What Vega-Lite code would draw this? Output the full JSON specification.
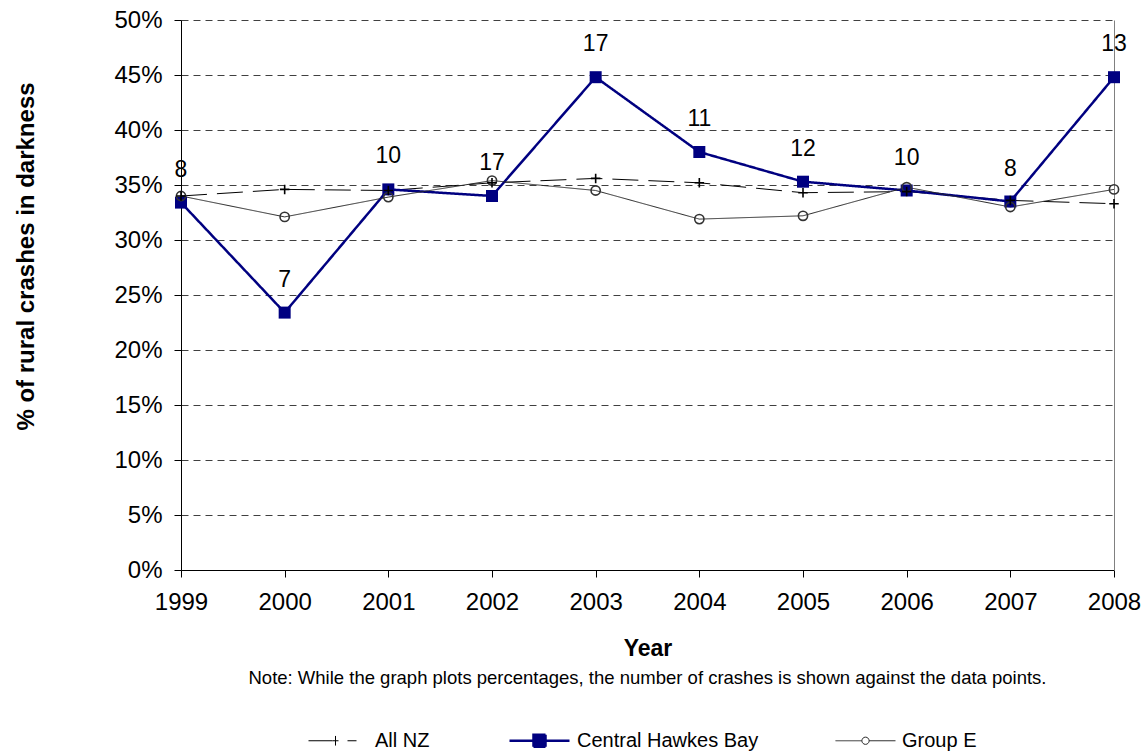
{
  "$schema": "https://vega.github.io/schema/vega-lite/v6.json",
  "width": 933,
  "height": 550,
  "autosize": "none",
  "padding": {"left": 181, "top": 20, "right": 31, "bottom": 184},
  "background": "white",
  "config": {
    "view": {"stroke": null},
    "font": "Liberation Sans",
    "axis": {"labelFont": "Liberation Sans", "titleFont": "Liberation Sans", "labelColor": "black", "titleColor": "black"}
  },
  "title": {
    "text": "Note: While the graph plots percentages, the number of crashes is shown against the  data points.",
    "orient": "bottom",
    "anchor": "middle",
    "fontSize": 18.5,
    "fontWeight": "normal",
    "font": "Liberation Sans",
    "color": "black",
    "offset": -83
  },
  "data": {
    "values": [
      {"year": 1999, "series": "All NZ", "value": 0.340},
      {"year": 2000, "series": "All NZ", "value": 0.346},
      {"year": 2001, "series": "All NZ", "value": 0.345},
      {"year": 2002, "series": "All NZ", "value": 0.352},
      {"year": 2003, "series": "All NZ", "value": 0.356},
      {"year": 2004, "series": "All NZ", "value": 0.352},
      {"year": 2005, "series": "All NZ", "value": 0.343},
      {"year": 2006, "series": "All NZ", "value": 0.344},
      {"year": 2007, "series": "All NZ", "value": 0.336},
      {"year": 2008, "series": "All NZ", "value": 0.333},
      {"year": 1999, "series": "Central Hawkes Bay", "value": 0.334, "count": 8},
      {"year": 2000, "series": "Central Hawkes Bay", "value": 0.234, "count": 7},
      {"year": 2001, "series": "Central Hawkes Bay", "value": 0.346, "count": 10},
      {"year": 2002, "series": "Central Hawkes Bay", "value": 0.340, "count": 17},
      {"year": 2003, "series": "Central Hawkes Bay", "value": 0.448, "count": 17},
      {"year": 2004, "series": "Central Hawkes Bay", "value": 0.380, "count": 11},
      {"year": 2005, "series": "Central Hawkes Bay", "value": 0.353, "count": 12},
      {"year": 2006, "series": "Central Hawkes Bay", "value": 0.345, "count": 10},
      {"year": 2007, "series": "Central Hawkes Bay", "value": 0.335, "count": 8},
      {"year": 2008, "series": "Central Hawkes Bay", "value": 0.448, "count": 13},
      {"year": 1999, "series": "Group E", "value": 0.340},
      {"year": 2000, "series": "Group E", "value": 0.321},
      {"year": 2001, "series": "Group E", "value": 0.339},
      {"year": 2002, "series": "Group E", "value": 0.354},
      {"year": 2003, "series": "Group E", "value": 0.345},
      {"year": 2004, "series": "Group E", "value": 0.319},
      {"year": 2005, "series": "Group E", "value": 0.322},
      {"year": 2006, "series": "Group E", "value": 0.348},
      {"year": 2007, "series": "Group E", "value": 0.330},
      {"year": 2008, "series": "Group E", "value": 0.346}
    ]
  },
  "encoding": {
    "x": {
      "field": "year",
      "type": "quantitative",
      "scale": {"domain": [1999, 2008], "nice": false, "zero": false},
      "axis": {
        "title": "Year",
        "values": [1999, 2000, 2001, 2002, 2003, 2004, 2005, 2006, 2007, 2008],
        "format": "d",
        "grid": false,
        "domainColor": "black",
        "tickColor": "black",
        "tickSize": 7,
        "labelFontSize": 24,
        "labelPadding": 13,
        "labelFlush": false,
        "titleFontSize": 23,
        "titleFontWeight": "bold",
        "titlePadding": 23
      }
    },
    "y": {
      "field": "value",
      "type": "quantitative",
      "scale": {"domain": [0, 0.5], "nice": false}
    }
  },
  "layer": [
    {
      "mark": {"type": "line", "clip": false},
      "encoding": {
        "y": {
          "field": "value",
          "type": "quantitative",
          "axis": {
            "title": "% of rural crashes in darkness",
            "format": ".0%",
            "values": [0, 0.05, 0.1, 0.15, 0.2, 0.25, 0.3, 0.35, 0.4, 0.45, 0.5],
            "grid": true,
            "gridColor": "#404040",
            "gridDash": [7, 5],
            "gridWidth": 1,
            "domainColor": "black",
            "tickColor": "black",
            "tickSize": 7,
            "labelFontSize": 24,
            "labelPadding": 12,
            "titleFontSize": 24,
            "titleFontWeight": "bold",
            "titleBaseline": "alphabetic",
            "titleX": -148,
            "titleY": 236
          }
        },
        "color": {
          "field": "series",
          "type": "nominal",
          "scale": {"domain": ["All NZ", "Central Hawkes Bay", "Group E"], "range": ["black", "#000080", "#262626"]},
          "legend": {
            "title": null,
            "orient": "none",
            "direction": "horizontal",
            "legendX": 127,
            "legendY": 689,
            "symbolSize": 3600,
            "columnPadding": 74,
            "labelFontSize": 20,
            "labelFont": "Liberation Sans",
            "labelColor": "black",
            "labelOffset": 6,
            "labelLimit": 400,
            "encode": {
              "symbols": {
                "update": {
                  "shape": {"signal": "datum.value === 'All NZ' ? 'M-1,0H-0.2M-0.2,0H0M-0.1,-0.16V0.16M0.3,0H0.6' : datum.value === 'Central Hawkes Bay' ? 'M-1,0H1M-0.2,-0.2H0.2V0.2H-0.2Z' : 'M-1,0H-0.12M0.12,0H1M-0.12,0A0.12,0.12 0 1,1 0.12,0A0.12,0.12 0 1,1 -0.12,0'"},
                  "fill": {"signal": "datum.value === 'Central Hawkes Bay' ? '#000080' : 'white'"},
                  "stroke": {"signal": "datum.value === 'Central Hawkes Bay' ? '#000080' : datum.value === 'All NZ' ? 'black' : '#262626'"},
                  "strokeWidth": {"signal": "datum.value === 'Central Hawkes Bay' ? 2.5 : 1.2"},
                  "opacity": {"value": 1},
                  "fillOpacity": {"value": 1}
                }
              }
            }
          }
        },
        "strokeDash": {
          "field": "series",
          "type": "nominal",
          "scale": {"domain": ["All NZ", "Central Hawkes Bay", "Group E"], "range": [[26, 10], [1, 0], [1, 0]]},
          "legend": null
        },
        "strokeWidth": {
          "field": "series",
          "type": "nominal",
          "scale": {"type": "ordinal", "domain": ["All NZ", "Central Hawkes Bay", "Group E"], "range": [1, 2.5, 1]},
          "legend": null
        }
      }
    },
    {
      "transform": [{"filter": "datum.series === 'Central Hawkes Bay'"}],
      "mark": {"type": "point", "shape": "square", "size": 144, "filled": true, "color": "#000080", "opacity": 1, "clip": false},
      "encoding": {"y": {"field": "value", "type": "quantitative", "axis": null}}
    },
    {
      "transform": [{"filter": "datum.series === 'Group E'"}],
      "mark": {"type": "point", "shape": "circle", "size": 85, "filled": false, "stroke": "#333333", "strokeWidth": 1.6, "opacity": 1, "clip": false},
      "encoding": {"y": {"field": "value", "type": "quantitative", "axis": null}}
    },
    {
      "transform": [{"filter": "datum.series === 'All NZ'"}],
      "mark": {"type": "point", "shape": "M-1,0H1M0,-1V1", "size": 90, "filled": false, "stroke": "black", "strokeWidth": 1.6, "opacity": 1, "clip": false},
      "encoding": {"y": {"field": "value", "type": "quantitative", "axis": null}}
    },
    {
      "transform": [{"filter": "datum.series === 'Central Hawkes Bay'"}],
      "mark": {"type": "text", "fontSize": 23, "font": "Liberation Sans", "color": "black", "baseline": "middle", "dy": -33, "clip": false},
      "encoding": {
        "text": {"field": "count", "type": "quantitative"},
        "y": {
          "field": "value",
          "type": "quantitative",
          "axis": {"orient": "right", "title": null, "labels": false, "ticks": false, "grid": false, "domainColor": "#808080", "domainWidth": 1}
        }
      }
    }
  ],
  "resolve": {"axis": {"y": "independent"}}
}
